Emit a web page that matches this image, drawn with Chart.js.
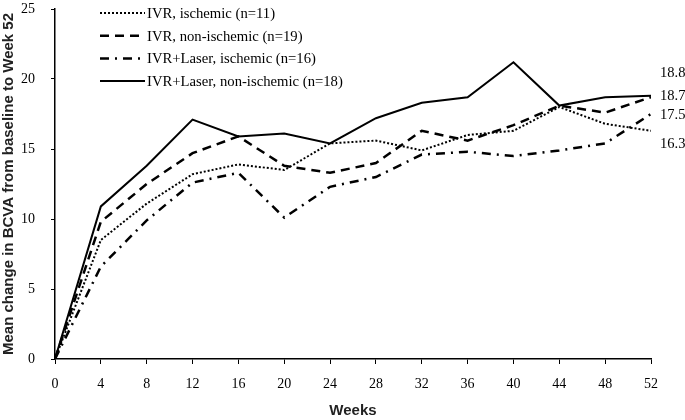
<!DOCTYPE html>
<html>
<head>
<meta charset="utf-8">
<script src="https://cdn.jsdelivr.net/npm/chart.js@4/dist/chart.umd.min.js"></script>
<style>
  html, body { margin: 0; padding: 0; background: #fff; }
  #wrap { width: 685px; height: 420px; }
</style>
</head>
<body>
<div id="wrap"><canvas id="chart"></canvas></div>
<script>
// weeks on the x axis
const weeks = [0, 4, 8, 12, 16, 20, 24, 28, 32, 36, 40, 44, 48, 52];

// mean change in BCVA per group
const ivrIschemic = [0, 8.5, 11.1, 13.2, 13.9, 13.5, 15.4, 15.6, 14.9, 16.0, 16.3, 18.0, 16.8, 16.3];
const ivrNonIschemic = [0, 9.8, 12.5, 14.7, 15.9, 13.8, 13.3, 14.0, 16.3, 15.6, 16.7, 18.1, 17.6, 18.7];
const laserIschemic = [0, 6.6, 9.9, 12.6, 13.3, 10.1, 12.3, 13.0, 14.6, 14.8, 14.5, 14.9, 15.4, 17.5];
const laserNonIschemic = [0, 10.9, 13.8, 17.1, 15.9, 16.1, 15.4, 17.2, 18.3, 18.7, 21.2, 18.1, 18.7, 18.8];

const seriesNames = [
  'IVR, ischemic (n=11)',
  'IVR, non-ischemic (n=19)',
  'IVR+Laser, ischemic (n=16)',
  'IVR+Laser, non-ischemic (n=18)'
];

const yTicks = [0, 5, 10, 15, 20, 25];

function toPoints(vals) {
  return weeks.map((w, i) => ({ x: w, y: vals[i] }));
}

// legend drawn inside the plot, top left
const innerLegend = {
  id: 'innerLegend',
  afterDraw(chart) {
    const ctx = chart.ctx;
    ctx.save();
    ctx.font = '14.7px "Liberation Serif"';
    ctx.fillStyle = '#000';
    ctx.textBaseline = 'middle';
    chart.data.datasets.forEach((ds, i) => {
      const y = 13 + i * 22.7;
      ctx.beginPath();
      ctx.setLineDash(ds.borderDash || []);
      ctx.lineWidth = ds.borderWidth;
      ctx.strokeStyle = '#000';
      ctx.moveTo(100, y);
      ctx.lineTo(145, y);
      ctx.stroke();
      ctx.setLineDash([]);
      ctx.fillText(ds.label, 147, y + 1);
    });
    ctx.restore();
  }
};

// final values written at the right end
const endLabels = {
  id: 'endLabels',
  afterDraw(chart) {
    const ctx = chart.ctx;
    const ys = chart.scales.y;
    const offsets = [13, -1, 1, -23];
    ctx.save();
    ctx.font = '14.5px "Liberation Serif"';
    ctx.fillStyle = '#000';
    ctx.textBaseline = 'middle';
    chart.data.datasets.forEach((ds, i) => {
      const v = ds.data[ds.data.length - 1].y;
      ctx.fillText(v.toFixed(1), chart.chartArea.right + 9, ys.getPixelForValue(v) + offsets[i]);
    });
    ctx.restore();
  }
};

const ctx = document.getElementById('chart').getContext('2d');
new Chart(ctx, {
  type: 'line',
  data: {
    datasets: [
      { label: seriesNames[0], data: toPoints(ivrIschemic), borderDash: [2, 2], borderWidth: 2 },
      { label: seriesNames[1], data: toPoints(ivrNonIschemic), borderDash: [9, 6], borderWidth: 2.5 },
      { label: seriesNames[2], data: toPoints(laserIschemic), borderDash: [9, 6, 2, 6], borderWidth: 2.5 },
      { label: seriesNames[3], data: toPoints(laserNonIschemic), borderDash: [], borderWidth: 2 }
    ].map(d => Object.assign(d, {
      borderColor: '#000',
      backgroundColor: '#000',
      pointRadius: 0,
      tension: 0,
      fill: false
    }))
  },
  options: {
    responsive: true,
    maintainAspectRatio: false,
    animation: false,
    layout: { padding: { top: 9, right: 34, left: 0, bottom: 0 } },
    plugins: {
      legend: { display: false },
      tooltip: { enabled: false }
    },
    scales: {
      x: {
        type: 'linear',
        min: 0,
        max: 52,
        afterBuildTicks: s => { s.ticks = weeks.map(v => ({ value: v })); },
        afterFit: s => { s.height = 61; s.paddingLeft = 0; s.paddingRight = 0; },
        grid: { drawOnChartArea: false, drawTicks: true, tickLength: 5, color: '#000' },
        border: { color: '#000', width: 1.5 },
        ticks: { color: '#000', font: { family: 'Liberation Serif', size: 14 }, padding: 12, maxRotation: 0 },
        title: {
          display: true,
          text: 'Weeks',
          color: '#222',
          font: { family: 'Liberation Sans', size: 15, weight: 'bold' },
          padding: { top: 0, bottom: 0 }
        }
      },
      y: {
        min: 0,
        max: 25,
        afterBuildTicks: s => { s.ticks = yTicks.map(v => ({ value: v })); },
        afterFit: s => { s.width = 55; s.paddingTop = 0; s.paddingBottom = 0; },
        grid: { drawOnChartArea: false, drawTicks: true, tickLength: 4, color: '#000' },
        border: { color: '#000', width: 1.5 },
        ticks: { color: '#000', font: { family: 'Liberation Serif', size: 14 }, padding: 16 },
        title: {
          display: true,
          text: 'Mean change in BCVA from baseline to Week 52',
          color: '#222',
          font: { family: 'Liberation Sans', size: 15, weight: 'bold' },
          padding: { top: 0, bottom: 0 }
        }
      }
    }
  },
  plugins: [innerLegend, endLabels]
});
</script>
</body>
</html>
